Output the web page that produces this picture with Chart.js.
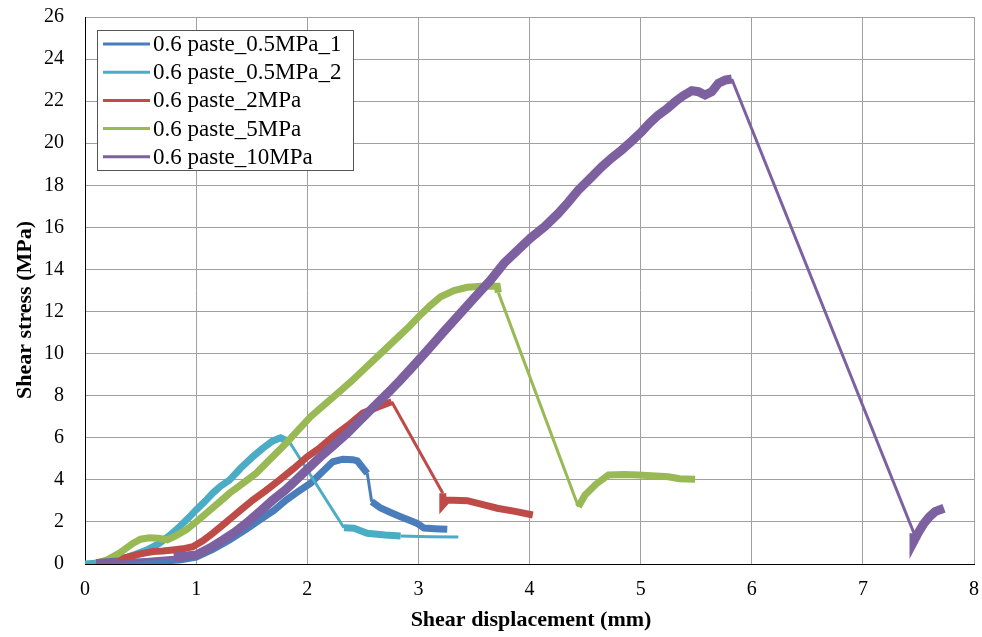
<!DOCTYPE html>
<html><head><meta charset="utf-8">
<script src="https://cdn.jsdelivr.net/npm/chart.js@4.4.1/dist/chart.umd.min.js"></script>
<style>html,body{margin:0;padding:0;background:#fff;}#wrap{width:982px;height:637px;}</style>
</head><body><div id="wrap"><canvas id="c" width="982" height="637"></canvas></div>
<script>
// ---- data ----
const seriesNames = ["0.6 paste_0.5MPa_1", "0.6 paste_0.5MPa_2", "0.6 paste_2MPa", "0.6 paste_5MPa", "0.6 paste_10MPa"];

const blueX = [0.10,0.25,0.40,0.55,0.70,0.85,1.00,1.15,1.30,1.45,1.57,1.70,1.81,1.92,2.03,2.13,2.23,2.32,2.41,2.45,2.54,2.58,2.66,2.75,2.84,2.92,2.99,3.05,3.15,3.26];
const blueY = [0.03,0.05,0.08,0.11,0.14,0.19,0.33,0.70,1.14,1.65,2.09,2.55,3.04,3.45,3.84,4.35,4.86,4.98,4.96,4.90,4.31,2.96,2.66,2.45,2.25,2.08,1.93,1.71,1.68,1.65];

const cyanX = [0.00,0.15,0.28,0.40,0.55,0.67,0.76,0.85,0.93,1.00,1.08,1.15,1.22,1.30,1.40,1.51,1.60,1.69,1.76,1.84,2.33,2.42,2.54,2.70,2.84,3.10,3.36];
const cyanY = [0.00,0.06,0.18,0.35,0.65,0.98,1.35,1.77,2.18,2.57,2.98,3.37,3.70,3.99,4.55,5.10,5.50,5.85,6.00,5.80,1.72,1.70,1.46,1.38,1.33,1.30,1.28];

const redX = [0.10,0.25,0.40,0.50,0.61,0.70,0.79,0.88,0.97,1.06,1.15,1.24,1.33,1.42,1.51,1.63,1.75,1.88,2.00,2.12,2.23,2.37,2.50,2.63,2.76,3.22,3.22,3.26,3.44,3.60,3.71,3.87,4.03];
const redY = [0.03,0.15,0.35,0.48,0.59,0.62,0.67,0.72,0.82,1.10,1.46,1.85,2.25,2.65,3.04,3.50,3.99,4.55,5.10,5.55,6.05,6.60,7.17,7.45,7.71,3.36,2.80,3.04,3.01,2.80,2.65,2.50,2.33];

const greenX = [0.10,0.20,0.31,0.43,0.50,0.58,0.66,0.74,0.82,0.91,1.00,1.09,1.20,1.30,1.42,1.54,1.67,1.81,1.92,2.03,2.15,2.28,2.40,2.53,2.66,2.81,2.92,3.02,3.11,3.20,3.32,3.44,3.57,3.71,3.72,4.44,4.50,4.60,4.71,4.85,4.98,5.10,5.25,5.35,5.49];
const greenY = [0.03,0.20,0.52,0.98,1.18,1.25,1.22,1.15,1.35,1.62,2.00,2.41,2.90,3.36,3.83,4.31,5.00,5.74,6.37,7.00,7.55,8.15,8.70,9.35,10.00,10.75,11.30,11.85,12.30,12.70,13.00,13.15,13.20,13.20,12.90,2.72,3.28,3.80,4.23,4.25,4.23,4.20,4.15,4.05,4.03];

const purpleX = [0.10,0.30,0.55,0.80,1.00,1.12,1.24,1.35,1.45,1.57,1.69,1.80,1.90,2.01,2.12,2.24,2.36,2.48,2.60,2.72,2.84,2.97,3.11,3.23,3.35,3.50,3.65,3.77,3.90,4.01,4.14,4.26,4.35,4.44,4.55,4.65,4.74,4.83,4.92,5.01,5.08,5.16,5.24,5.31,5.38,5.46,5.52,5.58,5.64,5.70,5.76,5.82,7.46,7.46,7.50,7.55,7.60,7.65,7.73];
const purpleY = [0.03,0.10,0.22,0.32,0.43,0.75,1.14,1.52,1.93,2.48,3.04,3.50,3.99,4.55,5.10,5.65,6.21,6.85,7.48,8.10,8.75,9.50,10.33,11.05,11.75,12.63,13.50,14.29,14.95,15.50,16.05,16.67,17.20,17.78,18.35,18.88,19.30,19.68,20.10,20.55,20.95,21.34,21.65,21.97,22.25,22.50,22.45,22.29,22.45,22.85,23.00,23.05,1.46,1.10,1.50,1.93,2.25,2.49,2.65];

const xTicks = [0,1,2,3,4,5,6,7,8];
const yTicks = [0,2,4,6,8,10,12,14,16,18,20,22,24,26];
const xTitle = "Shear displacement (mm)";
const yTitle = "Shear stress (MPa)";

const colors = ["#4A7EBB", "#4BACC6", "#BE4B48", "#98B954", "#7D60A0"];

function pts(xs, ys){ return xs.map((x,i)=>({x:x, y:ys[i]})); }
const allX = [blueX, cyanX, redX, greenX, purpleX];
const allY = [blueY, cyanY, redY, greenY, purpleY];
const thickW = [7, 7, 7, 7, 9];

const datasets = seriesNames.map((name, i) => ({
  label: name,
  data: pts(allX[i], allY[i]),
  showLine: true,
  borderColor: colors[i],
  backgroundColor: colors[i],
  borderWidth: thickW[i],
  pointRadius: 0,
  pointHoverRadius: 0,
  order: 4 - i,
  borderJoinStyle: 'miter',
  segment: {
    borderWidth: ctx => {
      const d = Math.hypot(ctx.p1.x - ctx.p0.x, ctx.p1.y - ctx.p0.y);
      return d > 25 ? 3 : thickW[i];
    }
  }
}));

const legendPlugin = {
  id: 'boxLegend',
  afterDraw(chart) {
    const c = chart.ctx;
    c.save();
    const bx = 97, by = 30, bw = 256, bh = 140;
    c.fillStyle = '#fff';
    c.fillRect(bx, by, bw, bh);
    c.strokeStyle = '#555';
    c.lineWidth = 1;
    c.strokeRect(bx + 0.5, by + 0.5, bw, bh);
    c.font = '23px "Liberation Serif"';
    c.textBaseline = 'middle';
    c.fillStyle = '#000';
    seriesNames.forEach((n, i) => {
      const y = 44 + i * 28.2;
      c.strokeStyle = colors[i];
      c.lineWidth = 3;
      c.beginPath(); c.moveTo(103, y); c.lineTo(150, y); c.stroke();
      c.fillText(n, 153, y + 1);
    });
    // axis titles
    c.font = 'bold 22px "Liberation Serif"';
    c.textAlign = 'center';
    c.textBaseline = 'alphabetic';
    c.fillText(xTitle, 531, 626);
    c.translate(31, 310);
    c.rotate(-Math.PI / 2);
    c.fillText(yTitle, 0, 0);
    c.restore();
  }
};

function zeroPad(s){ s.paddingTop = 0; s.paddingBottom = 0; s.paddingLeft = 0; s.paddingRight = 0; }

new Chart(document.getElementById('c'), {
  type: 'scatter',
  data: { datasets },
  options: {
    responsive: false,
    animation: false,
    devicePixelRatio: 1,
    layout: { padding: { top: 17, right: 8, left: 0, bottom: 0 } },
    plugins: { legend: { display: false }, tooltip: { enabled: false } },
    scales: {
      x: {
        type: 'linear', min: 0, max: 8,
        afterBuildTicks: s => { s.ticks = xTicks.map(v => ({value: v})); },
        afterFit: s => { s.height = 73; zeroPad(s); },
        grid: { color: '#a0a0a0', lineWidth: 1, drawTicks: false },
        border: { color: '#000', width: 1 },
        ticks: { padding: 14, color: '#000', font: { family: 'Liberation Serif', size: 20 } }
      },
      y: {
        type: 'linear', min: 0, max: 26,
        afterBuildTicks: s => { s.ticks = yTicks.map(v => ({value: v})); },
        afterFit: s => { s.width = 85; zeroPad(s); },
        grid: { color: '#a0a0a0', lineWidth: 1, drawTicks: false },
        border: { color: '#000', width: 1 },
        ticks: { padding: 21, color: '#000', font: { family: 'Liberation Serif', size: 20 } }
      }
    }
  },
  plugins: [legendPlugin]
});
</script></body></html>
